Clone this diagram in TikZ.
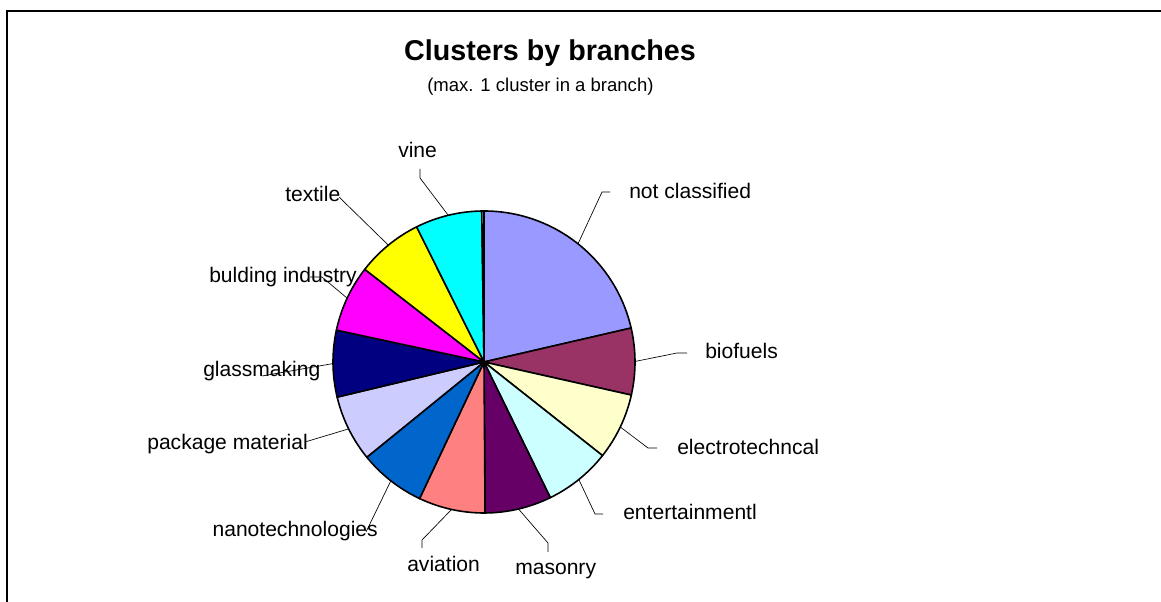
\documentclass[tikz,border=0pt]{standalone}
\usepackage{fontspec}
\setmainfont{Liberation Sans}

\definecolor{cnotcl}{HTML}{9999FF}
\definecolor{cbio}{HTML}{993366}
\definecolor{celec}{HTML}{FFFFCC}
\definecolor{cent}{HTML}{CCFFFF}
\definecolor{cmason}{HTML}{660066}
\definecolor{cavia}{HTML}{FF8080}
\definecolor{cnano}{HTML}{0066CC}
\definecolor{cpack}{HTML}{CCCCFF}
\definecolor{cglass}{HTML}{000080}
\definecolor{cbuild}{HTML}{FF00FF}
\definecolor{ctext}{HTML}{FFFF00}
\definecolor{cvine}{HTML}{00FFFF}

\tikzset{
  slice/.style={draw=black, line width=1.2pt, line join=round},
  leader/.style={draw=black, line width=0.5pt},
  lbl/.style={inner sep=0pt, font=\fontsize{15.8}{18}\selectfont, anchor=base west},
}

\begin{document}
\begin{tikzpicture}[x=0.75pt,y=0.75pt]
            \useasboundingbox (0,0) rectangle (1161,602);
            \draw[line width=1.5pt] (6.5,0) -- (6.5,590.5) -- (1161,590.5);
            \node[inner sep=0pt, anchor=base, font=\fontsize{21.5}{24}\selectfont\bfseries] (title) at (550,541) {Clusters by branches};
            \node[inner sep=0pt, anchor=base west, font=\fontsize{13.9}{16}\selectfont] (subtitle) at (427,510) {(max. 1 cluster in a branch)};
            % the pie, clockwise from the top
            \begin{scope}[shift={(484,240)}]
            \filldraw[slice, fill=cnotcl] (0,0) -- (90:151) arc[start angle=90, end angle=13, radius=151] -- cycle;
            \filldraw[slice, fill=cbio] (0,0) -- (13:151) arc[start angle=13, end angle=-12.65, radius=151] -- cycle;
            \filldraw[slice, fill=celec] (0,0) -- (-12.65:151) arc[start angle=-12.65, end angle=-38.3, radius=151] -- cycle;
            \filldraw[slice, fill=cent] (0,0) -- (-38.3:151) arc[start angle=-38.3, end angle=-63.95, radius=151] -- cycle;
            \filldraw[slice, fill=cmason] (0,0) -- (-63.95:151) arc[start angle=-63.95, end angle=-89.6, radius=151] -- cycle;
            \filldraw[slice, fill=cavia] (0,0) -- (-89.6:151) arc[start angle=-89.6, end angle=-115.25, radius=151] -- cycle;
            \filldraw[slice, fill=cnano] (0,0) -- (-115.25:151) arc[start angle=-115.25, end angle=-140.9, radius=151] -- cycle;
            \filldraw[slice, fill=cpack] (0,0) -- (-140.9:151) arc[start angle=-140.9, end angle=-166.55, radius=151] -- cycle;
            \filldraw[slice, fill=cglass] (0,0) -- (-166.55:151) arc[start angle=-166.55, end angle=-192.2, radius=151] -- cycle;
            \filldraw[slice, fill=cbuild] (0,0) -- (-192.2:151) arc[start angle=-192.2, end angle=-217.85, radius=151] -- cycle;
            \filldraw[slice, fill=ctext] (0,0) -- (-217.85:151) arc[start angle=-217.85, end angle=-243.5, radius=151] -- cycle;
            \filldraw[slice, fill=cvine] (0,0) -- (-243.5:151) arc[start angle=-243.5, end angle=-269.15, radius=151] -- cycle;
            \filldraw[slice, fill=white] (0,0) -- (-269.15:151) arc[start angle=-269.15, end angle=-270, radius=151] -- cycle;
            % where the leaders touch the pie
            \coordinate (notcl-p) at (51.5:151);
            \coordinate (bio-p) at (0.2:151);
            \coordinate (elec-p) at (-25.5:151);
            \coordinate (ent-p) at (-51.1:151);
            \coordinate (mason-p) at (-76.8:151);
            \coordinate (avia-p) at (-102.4:151);
            \coordinate (nano-p) at (-128.1:151);
            \coordinate (pack-p) at (-153.7:151);
            \coordinate (glass-p) at (-179.4:151);
            \coordinate (build-p) at (-205:151);
            \coordinate (text-p) at (-230.7:151);
            \coordinate (vine-p) at (-256.3:151);
            \end{scope}
            % labels
            \node[lbl] (notcl) at (629,403) {not classified};
            \node[lbl] (bio) at (705,243) {biofuels};
            \node[lbl] (elec) at (677,147) {electrotechncal};
            \node[lbl] (ent) at (623,82) {entertainmentl};
            \node[lbl] (mason) at (515,27) {masonry};
            \node[lbl] (avia) at (407,30) {aviation};
            \node[lbl, anchor=base east] (nano) at (378,65) {nanotechnologies};
            \node[lbl, anchor=base east] (pack) at (308,152) {package material};
            \node[lbl] (glass) at (203,225) {glassmaking};
            \node[lbl] (build) at (209,319) {bulding industry};
            \node[lbl] (text) at (285,400) {textile};
            \node[lbl] (vine) at (398,444) {vine};
            % leader lines
            \coordinate (notcl-k) at (602,410); \coordinate (notcl-e) at (610,410);
            \coordinate (bio-k) at (677,249); \coordinate (bio-e) at (687,249);
            \coordinate (elec-k) at (648,154); \coordinate (elec-e) at (657,154);
            \coordinate (ent-k) at (595,88); \coordinate (ent-e) at (603,88);
            \coordinate (mason-k) at (548,59); \coordinate (mason-e) at (548,50);
            \coordinate (avia-k) at (422,62); \coordinate (avia-e) at (422,54);
            \coordinate (nano-e) at (366,70);
            \coordinate (pack-e) at (305,160);
            \coordinate (glass-e) at (262,226);
            \coordinate (build-k) at (322,325); \coordinate (build-e) at (310,325);
            \coordinate (text-e) at (339,405);
            \coordinate (vine-k) at (420,424); \coordinate (vine-e) at (420,433);
            \draw[leader] (notcl-p) -- (notcl-k) -- (notcl-e);
            \draw[leader] (bio-p) -- (bio-k) -- (bio-e);
            \draw[leader] (elec-p) -- (elec-k) -- (elec-e);
            \draw[leader] (ent-p) -- (ent-k) -- (ent-e);
            \draw[leader] (mason-p) -- (mason-k) -- (mason-e);
            \draw[leader] (avia-p) -- (avia-k) -- (avia-e);
            \draw[leader] (nano-p) -- (nano-e);
            \draw[leader] (pack-p) -- (pack-e);
            \draw[leader] (glass-p) -- (glass-e);
            \draw[leader] (build-p) -- (build-k) -- (build-e);
            \draw[leader] (text-p) -- (text-e);
            \draw[leader] (vine-p) -- (vine-k) -- (vine-e);
        \end{tikzpicture}
\end{document}
